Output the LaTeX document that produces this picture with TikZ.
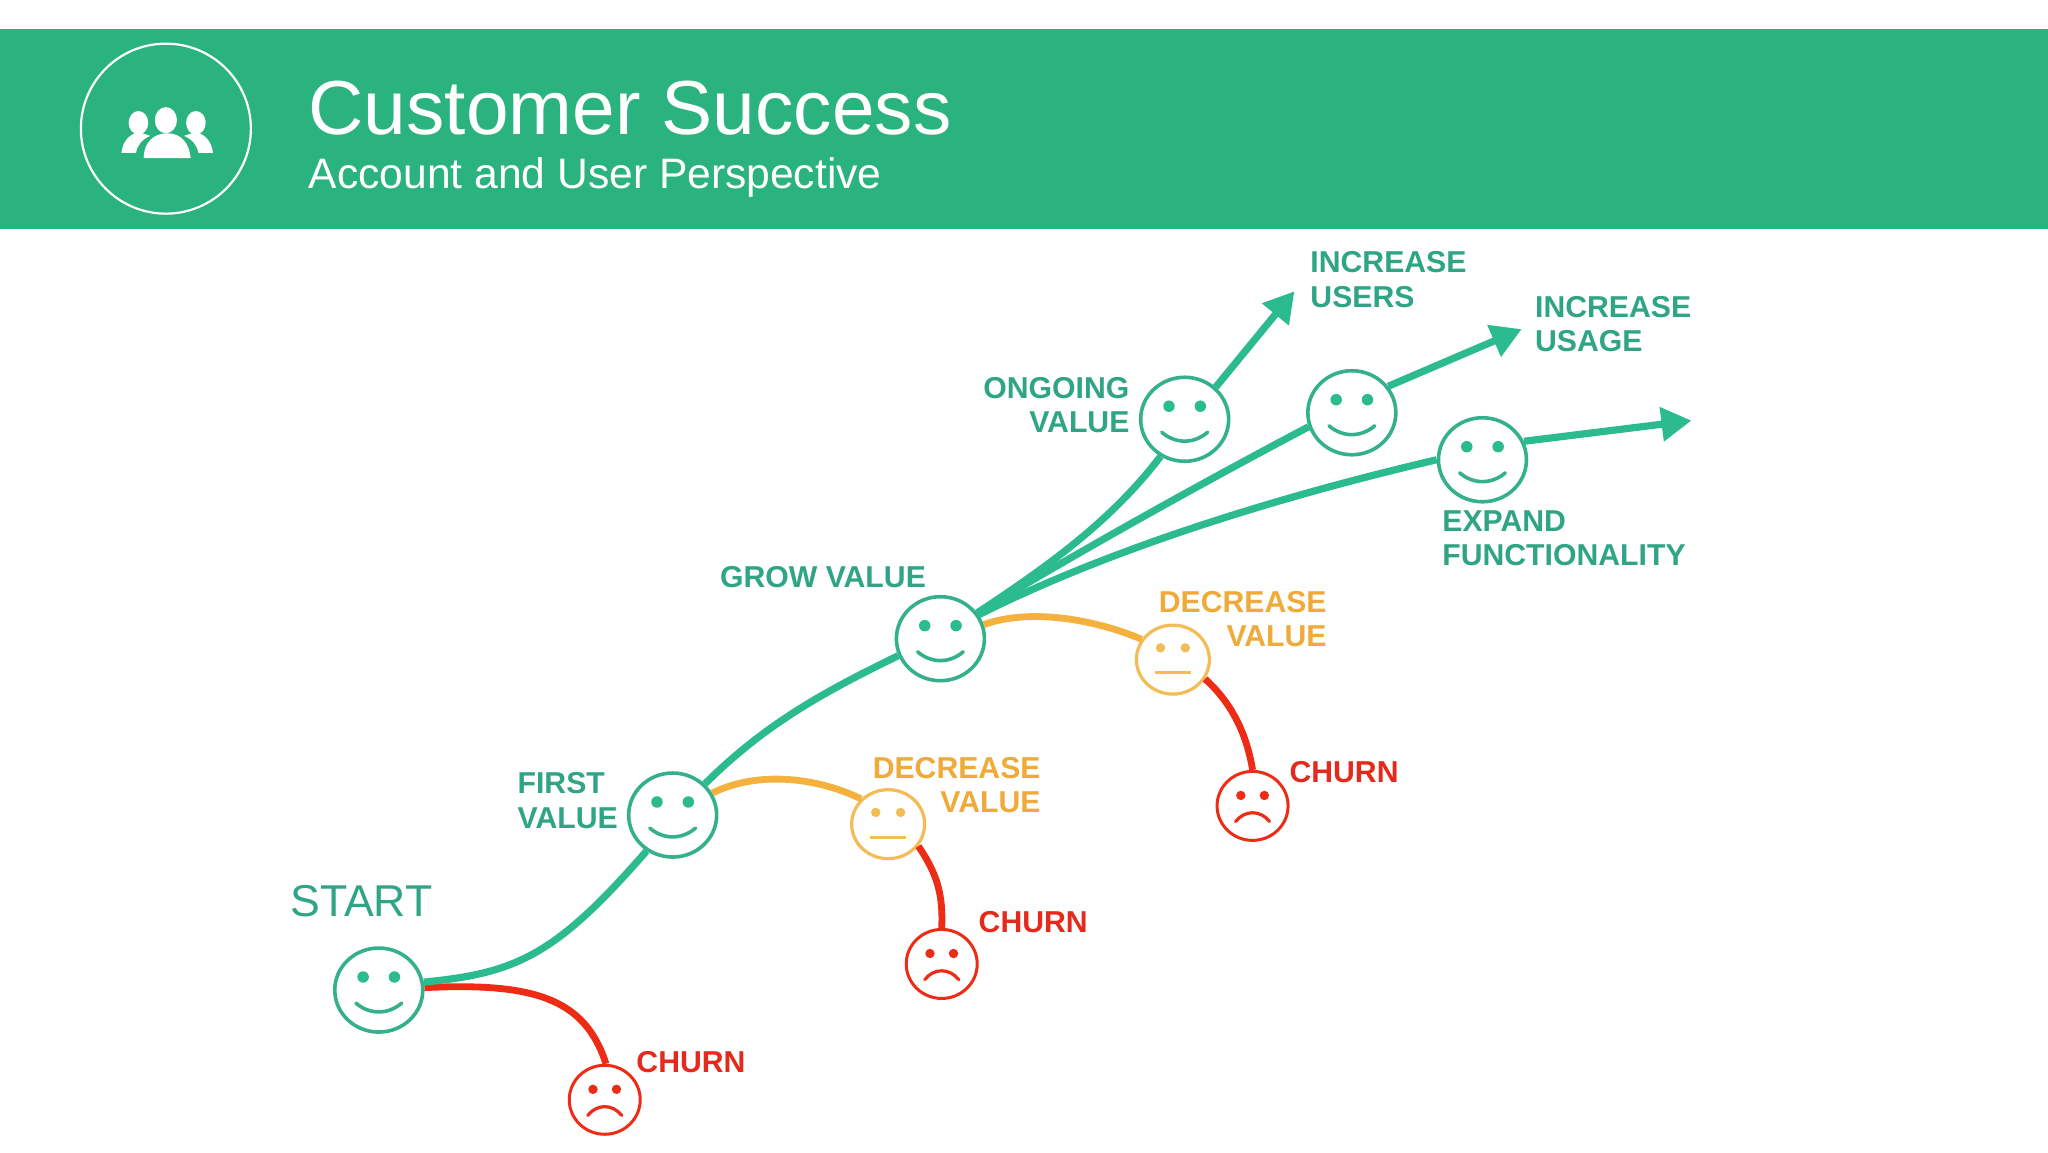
\documentclass[tikz,border=0pt]{standalone}
\usepackage{fontspec}
\setmainfont{Liberation Sans}
\usetikzlibrary{shapes.geometric,arrows.meta}
\definecolor{banner}{HTML}{2AB27F}
\definecolor{lbl}{HTML}{2FA585}
\definecolor{grn}{HTML}{2BBB8E}
\definecolor{facegrn}{HTML}{35B08C}
\definecolor{yel}{HTML}{F5B13D}
\definecolor{yelring}{HTML}{F3BC55}
\definecolor{ylbl}{HTML}{EFAA3A}
\definecolor{rd}{HTML}{EE2B15}
\definecolor{rlbl}{HTML}{E42A1C}
\tikzset{
  smileface/.style={ellipse,draw=facegrn,fill=white,line width=1.8pt,minimum width=44pt,minimum height=42pt,inner sep=0pt},
  neutralface/.style={ellipse,draw=yelring,fill=white,line width=1.6pt,minimum width=36.5pt,minimum height=34.5pt,inner sep=0pt},
  sadface/.style={ellipse,draw=rd,fill=white,line width=1.5pt,minimum width=35.5pt,minimum height=34.5pt,inner sep=0pt},
  biglabel/.style={font=\fontsize{15.1}{17.3}\selectfont\bfseries,inner sep=0pt},
  grnlabel/.style={biglabel,text=lbl},
  yellabel/.style={biglabel,text=ylbl,align=right,anchor=east},
  redlabel/.style={biglabel,text=rlbl,anchor=west},
  grnline/.style={draw=grn,line width=3.6pt},
  yelline/.style={draw=yel,line width=3.4pt},
  redline/.style={draw=rd,line width=3.4pt},
  arrowline/.style={grnline,-{Triangle[length=15pt,width=16.5pt]}},
}
\newcommand{\smiley}[3]{%
  \node[smileface] (#1) at (#2,#3) {};
  \fill[grn] (#2-12,#3-10) circle[radius=4.4];
  \fill[grn] (#2+12,#3-10) circle[radius=4.4];
  \draw[facegrn,line width=1.8pt,line cap=round] (#2-17.5,#3+10) .. controls (#2-7,#3+19) and (#2+7,#3+19) .. (#2+17.5,#3+10);
}
\newcommand{\neutral}[3]{%
  \node[neutralface] (#1) at (#2,#3) {};
  \fill[yelring] (#2-9.5,#3-9) circle[radius=3.6];
  \fill[yelring] (#2+9.5,#3-9) circle[radius=3.6];
  \draw[yelring,line width=1.6pt] (#2-14,#3+10) -- (#2+14,#3+10);
}
\newcommand{\sadley}[3]{%
  \node[sadface] (#1) at (#2,#3) {};
  \fill[rd] (#2-9,#3-8) circle[radius=3.6];
  \fill[rd] (#2+9,#3-8) circle[radius=3.6];
  \draw[rd,line width=1.6pt,line cap=round] (#2-13,#3+12) .. controls (#2-6,#3+3) and (#2+6,#3+3) .. (#2+13,#3+12);
}
\begin{document}
\begin{tikzpicture}[x=0.65306pt,y=-0.65306pt]
\useasboundingbox (0,0) rectangle (1568,882);
\fill[white] (0,0) rectangle (1568,882);
\fill[banner] (0,22) rectangle (1568,175.5);
% icon
\node[circle,draw=white,line width=1.1pt,minimum size=85pt,inner sep=0pt] (iconring) at (127,98.5) {};
\fill[white] (127,92) ellipse[x radius=8.5,y radius=10];
\fill[white] (106,94) ellipse[x radius=7.5,y radius=9];
\fill[white] (150,94) ellipse[x radius=7.5,y radius=9];
\fill[white] (93,117) .. controls (94,108) and (99,103) .. (106,101) -- (115,104) .. controls (108,107) and (105,112) .. (104,117) -- cycle;
\fill[white] (163,117) .. controls (162,108) and (157,103) .. (150,101) -- (141,104) .. controls (148,107) and (151,112) .. (152,117) -- cycle;
\fill[white] (110,121) .. controls (110,110) and (117,102) .. (128,102) .. controls (139,102) and (145,110) .. (146,121) -- cycle;
\node[anchor=base west,inner sep=0pt,text=white,font=\fontsize{38.3}{40}\selectfont] (title) at (236,103) {Customer Success};
\node[anchor=base west,inner sep=0pt,text=white,font=\fontsize{21.3}{24}\selectfont] (subtitle) at (236,144) {Account and User Perspective};
% faces
\smiley{start}{290}{758}
\smiley{first}{515}{624}
\smiley{grow}{720}{489}
\smiley{ongoing}{907}{321}
\smiley{mid}{1035}{316}
\smiley{expand}{1135}{352}
\neutral{yelA}{680}{631}
\neutral{yelB}{898}{505}
\sadley{redA}{463}{842}
\sadley{redB}{721}{738}
\sadley{redC}{959}{617}
% free arrow ends
\coordinate (tipA) at (991,223);
\coordinate (tipB) at (1165,252);
\coordinate (tipC) at (1295,322);
% connectors
\draw[redline] (start.3) .. controls (410,752) and (448,765) .. (redA.88);
\draw[grnline] (start.10) .. controls (395,745) and (425,732) .. (first.234);
\draw[grnline] (first.44) .. controls (585,555) and (630,530) .. (grow.202);
\draw[yelline] (first.29) .. controls (580,590) and (625,595) .. (yelA.137);
\draw[redline] (yelA.-36) .. controls (718,670) and (722,685) .. (redB.90);
\draw[yelline] (grow.18) .. controls (790,465) and (840,475) .. (yelB.147);
\draw[redline] (yelB.-31) .. controls (945,540) and (955,565) .. (redC.90);
\draw[grnline] (grow.35) .. controls (800,435) and (850,400) .. (ongoing.237);
\draw[grnline] (grow.35) .. controls (830,420) and (920,370) .. (mid.198);
\draw[grnline] (grow.32) .. controls (850,420) and (980,380) .. (expand.180);
\draw[arrowline] (ongoing.46) -- (tipA);
\draw[arrowline] (mid.36) -- (tipB);
\draw[arrowline] (expand.24) -- (tipC);
% labels
\node[text=lbl,anchor=west,inner sep=0pt,font=\fontsize{22.3}{24}\selectfont] (lstart) at (222,690) {START};
\node[grnlabel,align=left,anchor=west] (lusers) at (1003,214) {INCREASE\\USERS};
\node[grnlabel,align=left,anchor=west] (lusage) at (1175,248) {INCREASE\\USAGE};
\node[grnlabel,align=right,anchor=east] (longoing) at (865,310) {ONGOING\\VALUE};
\node[grnlabel,align=left,anchor=west] (lexpand) at (1104,412) {EXPAND\\FUNCTIONALITY};
\node[grnlabel,anchor=west] (lgrow) at (551,442) {GROW VALUE};
\node[grnlabel,align=left,anchor=west] (lfirst) at (396,613) {FIRST\\VALUE};
\node[yellabel] (ldecB) at (1016,474) {DECREASE\\VALUE};
\node[yellabel] (ldecA) at (797,601) {DECREASE\\VALUE};
\node[redlabel] (lchurnC) at (987,591) {CHURN};
\node[redlabel] (lchurnB) at (749,706) {CHURN};
\node[redlabel] (lchurnA) at (487,813) {CHURN};
\end{tikzpicture}
\end{document}
